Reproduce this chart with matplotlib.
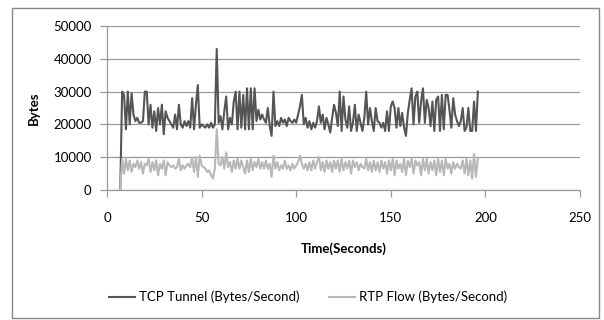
import matplotlib
matplotlib.use("Agg")
import matplotlib.pyplot as plt
from matplotlib.patches import Rectangle

seconds = list(range(7, 197))

tcp_tunnel = [
    0, 30000, 29000, 18500, 30000, 20000, 29500, 23000, 21000, 22000,
    20500, 20500, 21000, 30000, 30000, 20000, 26000, 19000, 24000, 18000,
    25000, 20000, 26000, 17000, 24000, 22000, 21000, 20000, 19000, 23000,
    18500, 26000, 20000,
    19000, 21000, 19500, 21000, 19000, 28000, 18500, 26000, 32000, 19000,
    20000, 19500, 19000, 20000, 19000, 20500, 19000, 20000, 43000, 20500,
    22500, 18500, 24000, 28500, 18500, 22000, 20000, 27000, 30000, 18500,
    30000, 19000, 29000,
    18500, 31000, 18500, 31000, 18500, 31000, 21000, 24500, 21500, 23000,
    21500, 20500, 25000, 19500, 16500, 30000, 19500, 21000, 19500, 22000,
    20500, 21500, 19500, 22000, 21000, 20500, 21500, 20500, 23000, 25500,
    29000, 20000, 22000,
    19000, 21000, 18500, 20500, 19000, 21000, 25500, 20500, 23000, 18500,
    22000, 20000, 17500, 22000, 26000, 23500, 19500, 30000, 18000, 28500,
    21500, 19000, 25500, 18000, 20500, 26000, 18000, 23000, 20500, 18000,
    22000, 30000, 20000,
    25000, 21000, 18000, 25000, 21000, 20500, 19000, 20500, 18000, 24000,
    18000, 25500, 27000, 25000, 19000, 25000, 19500, 23500, 19000, 16500,
    23500, 27500, 31000, 20000, 28500, 30000, 20500, 27000, 31000, 20500,
    27500, 25000, 19500,
    27000, 18000, 27500, 28500, 18000, 29000, 18500, 29000, 29000, 24500,
    19000, 28000, 23000, 21000, 19500, 21000, 25000, 18000, 19000, 25000,
    18000, 18000, 27000, 18000, 30000,
]

rtp_flow = [
    0, 9500, 5000, 9500, 6000, 9000, 5500, 8000, 7000, 9000,
    6500, 8500, 5000, 8000, 7500, 9500, 5500, 8500, 6000, 9000,
    4500, 8000, 6500, 9000, 4500, 8500, 7500, 7000, 7500, 6500,
    7000, 9500, 6000,
    7500, 6500, 7500, 8000, 7000, 10000, 5500, 10000, 4000, 10500,
    7500, 7000, 6500, 5500, 6000, 4500, 3500, 6500, 18500, 8000,
    7500, 10000, 6500, 11500, 7000, 8500, 5500, 9000, 6500, 9500,
    6500, 9000, 7000,
    5000, 9000, 5500, 9500, 6000, 8500, 7000, 9500, 6500, 8500,
    6500, 9000, 6500, 8000, 4000, 10500, 6500, 8500, 6000, 7500,
    6500, 9000, 6500, 7500, 6000, 8000, 6500, 7500, 8500, 10500,
    8000, 6500, 8000,
    6000, 8500, 6000, 9000, 6500, 8500, 10000, 6000, 8500, 5500,
    9000, 6500, 8500, 5500, 9000, 6500, 9000, 5500, 9500, 6000,
    8500, 6500, 9000, 5000, 9000, 7000, 8500, 6000, 8000, 7000,
    6500, 9500, 6000,
    8500, 5500, 9000, 6000, 8500, 5500, 9000, 6500, 8500, 5000,
    9000, 6000, 9500, 4500, 9000, 6500, 8000, 5500, 9500, 4500,
    9000, 7000, 9500, 5000, 9000, 7500, 8500, 4500, 9500, 6000,
    9500, 5000, 8500,
    6000, 9000, 4500, 9500, 5500, 9000, 4500, 9500, 6500, 8000,
    5000, 8500, 6500, 8000, 7000, 6500, 9000, 5000, 9500, 4500,
    9000, 3500, 11000, 4000, 9500,
]

x_ticks = [0, 50, 100, 150, 200, 250]
y_ticks = [0, 10000, 20000, 30000, 40000, 50000]

plt.rcParams['font.family'] = ['Lato', 'DejaVu Sans']

fig = plt.figure(figsize=(6.04, 3.2), dpi=100)
ax = fig.add_axes([107/604, 1-190/320, (580-107)/604, (190-26)/320])

ax.plot(seconds, tcp_tunnel, color='#555555', lw=1.5, label='TCP Tunnel (Bytes/Second)')
ax.plot(seconds, rtp_flow, color='#b8b8b8', lw=1.5, label='RTP Flow (Bytes/Second)')

ax.set_xlim(0, 250)
ax.set_ylim(0, 50000)
ax.set_xticks(x_ticks)
ax.set_yticks(y_ticks)
ax.set_xticklabels([str(t) for t in x_ticks], fontsize=9.5)
ax.set_yticklabels([str(t) for t in y_ticks], fontsize=9.5)
ax.yaxis.grid(True, color='#9a9a9a', lw=0.9)
ax.set_axisbelow(True)
for s in ['top', 'right']:
    ax.spines[s].set_visible(False)
for s in ['left', 'bottom']:
    ax.spines[s].set_color('#9a9a9a')
    ax.spines[s].set_linewidth(0.9)
ax.tick_params(axis='both', colors='#9a9a9a', labelcolor='black', length=5, width=0.9)
ax.tick_params(axis='x', pad=11)
ax.tick_params(axis='y', pad=6)
ax.set_xlabel('Time(Seconds)', fontsize=9.5, fontweight='bold', labelpad=13)
ax.set_ylabel('Bytes', fontsize=9.5, fontweight='bold', labelpad=10)

fig.legend(loc='center', bbox_to_anchor=(0.51, 1-297/320), ncol=2, frameon=False,
           fontsize=9.5, handlelength=2, columnspacing=2.2, handletextpad=0.3)

fig.patches.append(Rectangle((12/604, 2/320), 587/604, 310/320, transform=fig.transFigure,
                             fill=False, edgecolor='#888888', lw=1))

fig.savefig('out.png', dpi=100)
